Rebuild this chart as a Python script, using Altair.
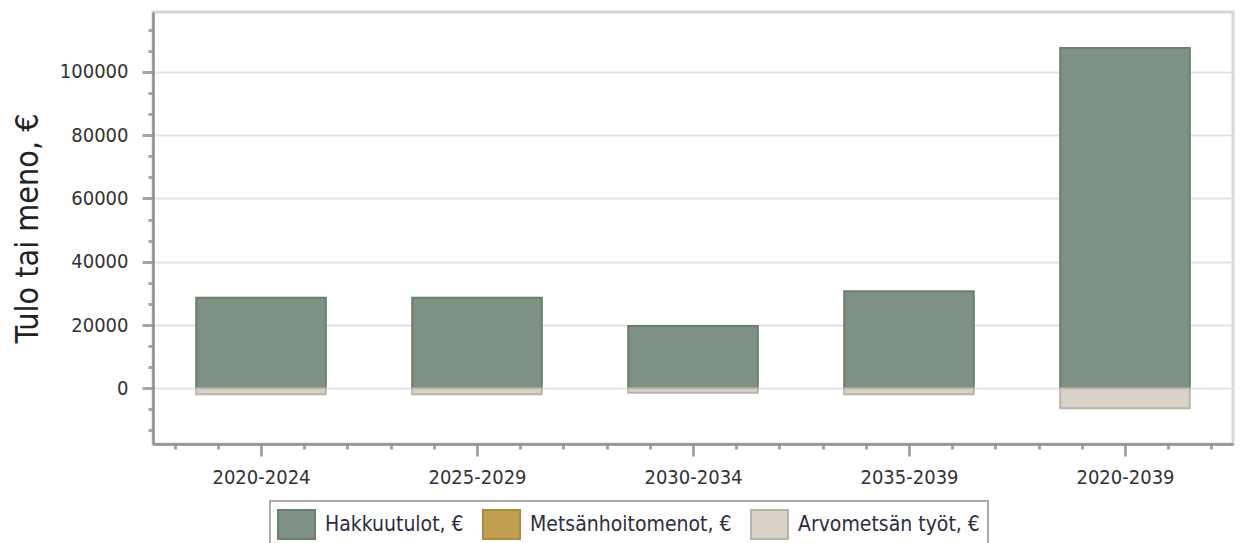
import json
import altair as alt
import pandas as pd

categories = ["2020-2024", "2025-2029", "2030-2034", "2035-2039", "2020-2039"]
series = ["Hakkuutulot, €", "Metsänhoitomenot, €", "Arvometsän työt, €"]
hakkuutulot = [28600, 28600, 19700, 30700, 107500]
metsanhoitomenot = [0, 0, 0, 0, 0]
arvometsan_tyot = [-1900, -1900, -1400, -1900, -6300]

fills = ["#7d9284", "#c19f4e", "#d9d2c9"]
strokes = ["#6b7e70", "#a98a3e", "#b9b3aa"]

rows = []
for i, c in enumerate(categories):
    for s, vals in zip(series, [hakkuutulot, metsanhoitomenot, arvometsan_tyot]):
        rows.append({"category": c, "idx": i, "series": s, "value": vals[i]})
df = pd.DataFrame(rows)

FONT = "DejaVu Sans Condensed"

x_vals = [round(-0.4 + 0.2 * k, 1) for k in range(25)]
y_vals = [k * 20000 / 3 for k in range(-2, 18)]

x_major = "abs(datum.value - round(datum.value)) < 0.01"
y_major = "abs(datum.value / 20000 - round(datum.value / 20000)) < 0.001"

x_axis = alt.Axis(
    values=x_vals,
    labelExpr=f"{x_major} ? {json.dumps(categories)}[round(datum.value)] : ''",
    tickSize={"condition": {"test": x_major, "value": 12}, "value": 5},
    labelPadding=11,
    grid=False,
    labelOverlap=False,
    labelFlush=False,
    title=None,
)
y_axis = alt.Axis(
    values=y_vals,
    labelExpr=f"{y_major} ? format(round(datum.value), 'd') : ''",
    tickSize={"condition": {"test": y_major, "value": 11}, "value": 5},
    gridOpacity={"condition": {"test": y_major, "value": 1}, "value": 0},
    labelPadding=14,
    labelOverlap=False,
    labelFlush=False,
    title="Tulo tai meno, €",
    titleFontSize=32,
    titleFont=FONT,
    titleFontWeight="normal",
    titleColor="#222222",
    titleAngle=270,
    titleAlign="center",
    titleBaseline="middle",
    titleX=-126,
    titleY=216,
)

legend = alt.Legend(
    title=None,
    orient="none",
    legendX=117,
    legendY=489,
    direction="horizontal",
    symbolType="M-1.276,-1H1.276V1H-1.276Z",
    symbolSize=841,
    symbolStrokeWidth=2,
    symbolOffset=3,
    labelFont=FONT,
    labelFontSize=21,
    labelColor="#2e2e3e",
    labelOffset=13,
    labelLimit=400,
    columnPadding=14,
    padding=8,
    strokeColor="#a9a9a9",
)

chart = (
    alt.Chart(df)
    .transform_filter("datum.value != 0")
    .transform_calculate(x0="datum.idx - 0.3", x1="datum.idx + 0.3")
    .mark_rect(strokeWidth=2)
    .encode(
        x=alt.X("x0:Q", scale=alt.Scale(domain=[-0.5, 4.5], nice=False, zero=False), axis=x_axis),
        x2="x1:Q",
        y=alt.Y("value:Q", scale=alt.Scale(domain=[-17600, 118900], nice=False, zero=False), axis=y_axis),
        y2=alt.datum(0),
        fill=alt.Fill("series:N", scale=alt.Scale(domain=series, range=fills), legend=legend),
        stroke=alt.Stroke("series:N", scale=alt.Scale(domain=series, range=strokes), legend=legend),
    )
    .properties(
        width=1080,
        height=432,
        autosize=alt.AutoSizeParams(type="none"),
        padding={"left": 145, "top": 4, "right": 2, "bottom": 99},
    )
    .configure_view(stroke="#d6d6d6", strokeWidth=3)
    .configure_legend(strokeWidth=2)
    .configure_axis(
        domainColor="#8f8f8f",
        domainWidth=2.5,
        tickColor="#a6a6a6",
        tickWidth=3,
        labelFont=FONT,
        labelFontSize=20,
        labelColor="#333333",
        gridColor="#e3e3e3",
        gridWidth=2,
    )
)

chart.save("out.html", embed_options={"renderer": "svg", "actions": False})
